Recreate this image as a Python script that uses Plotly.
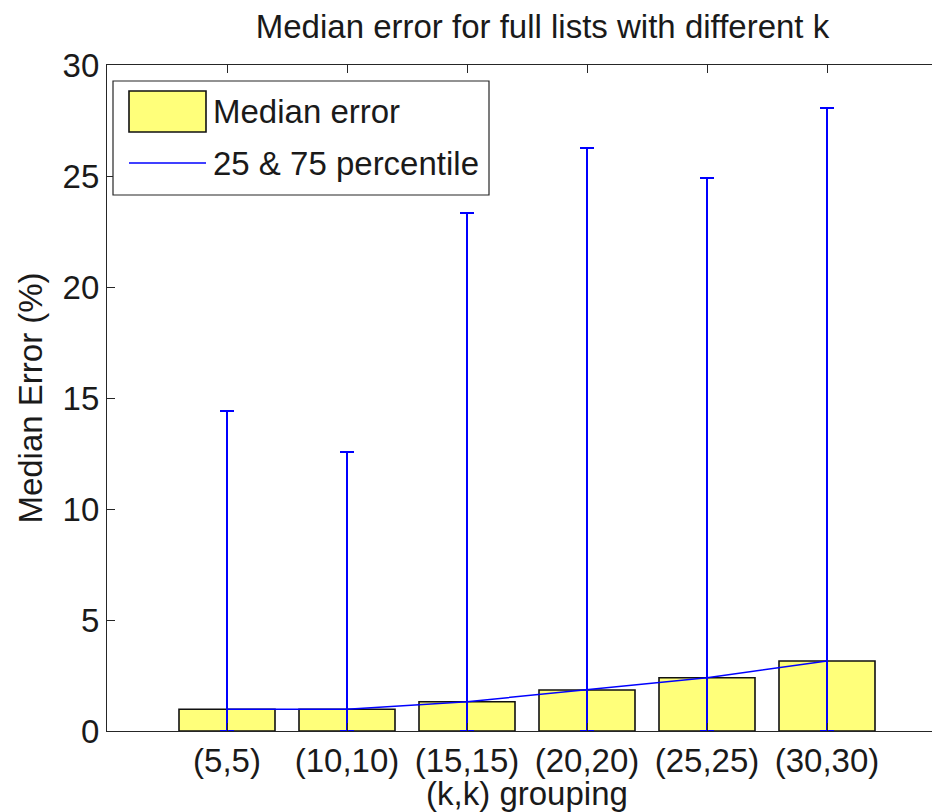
import plotly.graph_objects as go

categories = ["(5,5)", "(10,10)", "(15,15)", "(20,20)", "(25,25)", "(30,30)"]
median_error = [0.98, 0.98, 1.32, 1.85, 2.40, 3.15]
p75 = [14.41, 12.57, 23.33, 26.26, 24.91, 28.06]
p25 = [0.0, 0.0, 0.0, 0.0, 0.0, 0.0]

xpos = list(range(1, len(categories) + 1))
FONT = "Liberation Sans, Arial, Helvetica, sans-serif"
FS = 33
OFF = 8  # default body margin of the html page

fig = go.Figure()
fig.add_trace(go.Bar(
    x=xpos, y=median_error, width=0.8, name="Median error",
    marker=dict(color="#FFFF7A", line=dict(color="#111111", width=1.6)),
    showlegend=False,
))
fig.add_trace(go.Scatter(
    x=xpos, y=median_error, mode="lines", name="25 & 75 percentile",
    line=dict(color="#0000FF", width=1.5),
    error_y=dict(type="data", symmetric=False,
                 array=[u - m for u, m in zip(p75, median_error)],
                 arrayminus=[m - l for m, l in zip(median_error, p25)],
                 color="#0000FF", thickness=2, width=7),
    showlegend=False,
))

axis_common = dict(
    showline=True, linecolor="#262626", linewidth=1.2, mirror="ticks",
    ticks="inside", ticklen=8, tickcolor="#262626", tickwidth=1.2,
    showgrid=False, zeroline=False,
    tickfont=dict(family=FONT, size=FS, color="#1a1a1a"),
)

fig.update_xaxes(
    range=[0, 7], tickvals=xpos, ticktext=categories,
    title=dict(text="(k,k) grouping", font=dict(family=FONT, size=FS, color="#1a1a1a"), standoff=12),
    automargin=False, **axis_common,
)
fig.update_yaxes(
    range=[0, 30], tickvals=[0, 5, 10, 15, 20, 25, 30],
    title=dict(text="Median Error (%)", font=dict(family=FONT, size=FS, color="#1a1a1a"), standoff=10),
    automargin=False, **axis_common,
)

# target screen pixels -> paper coordinates
W, H = 940, 804
ml, mt = 107 - OFF, 65 - OFF
mr = W - (947 - OFF)
mb = H - (731 - OFF)
pw, ph = W - ml - mr, H - mt - mb
def px(x):
    return (x - OFF - ml) / pw
def py(y):
    return 1 - (y - OFF - mt) / ph

shapes = [
    dict(type="rect", xref="paper", yref="paper", x0=px(113), x1=px(489), y0=py(195), y1=py(81),
         line=dict(color="#262626", width=1.2), fillcolor="white", layer="above"),
    dict(type="rect", xref="paper", yref="paper", x0=px(129), x1=px(206), y0=py(132), y1=py(91),
         line=dict(color="#111111", width=1.6), fillcolor="#FFFF7A", layer="above"),
    dict(type="line", xref="paper", yref="paper", x0=px(129), x1=px(206), y0=py(163), y1=py(163),
         line=dict(color="#0000FF", width=1.5), layer="above"),
]
annotations = [
    dict(xref="paper", yref="paper", x=px(211), y=py(111), text="Median error", showarrow=False,
         xanchor="left", yanchor="middle", font=dict(family=FONT, size=FS, color="#1a1a1a")),
    dict(xref="paper", yref="paper", x=px(211), y=py(163), text="25 &amp; 75 percentile", showarrow=False,
         xanchor="left", yanchor="middle", font=dict(family=FONT, size=FS, color="#1a1a1a")),
]

fig.update_layout(
    width=W, height=H, autosize=False,
    margin=dict(l=ml, r=mr, t=mt, b=mb, pad=0),
    paper_bgcolor="white", plot_bgcolor="white",
    title=dict(text="Median error for full lists with different k",
               x=((257 + 828) / 2 - OFF) / W, xanchor="center",
               y=1 - (26 - OFF) / H, yanchor="middle",
               font=dict(family=FONT, size=FS, color="#1a1a1a")),
    bargap=0.2, shapes=shapes, annotations=annotations, showlegend=False,
)

fig.write_html("out.html")
